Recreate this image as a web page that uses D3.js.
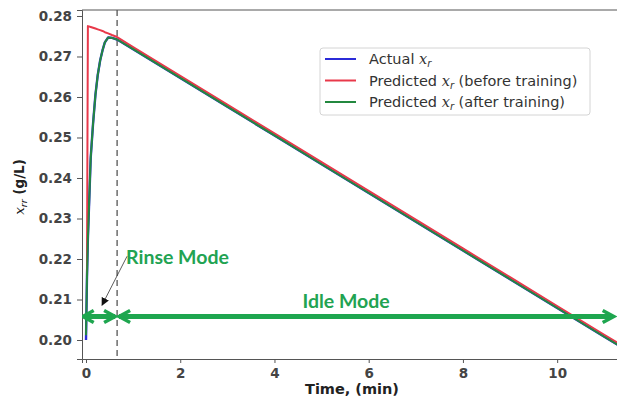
<!DOCTYPE html>
<html>
<head>
<meta charset="utf-8">
<title>Rinse / Idle xr</title>
<script src="https://d3js.org/d3.v7.min.js"></script>
<style>
body { margin: 0; background: #fff; }
.tick text { font-family: "DejaVu Sans", sans-serif; font-weight: bold; font-size: 13.5px; fill: #444; }
.tick line { stroke: #555; }
.domain { stroke: #555; }
.legend text { font-family: "DejaVu Sans", sans-serif; font-size: 14.5px; fill: #333; }
.mode { font-family: Lato, "Open Sans", sans-serif; font-weight: bold; font-size: 19.5px; fill: #22a352; }
</style>
</head>
<body>
<svg id="chart" width="617" height="398"></svg>
<script>
// time (min)
var timeMin = [0, 0.02, 0.04, 0.1, 0.15, 0.2, 0.25, 0.3, 0.35, 0.4, 0.47, 0.55, 0.66,
               1, 2, 3, 4, 5, 6, 7, 8, 9, 10, 11, 11.3];
// x_r (g/L)
var actualXr = [0.2000, 0.2150, 0.2250, 0.2450, 0.2535, 0.2605, 0.2655, 0.2690, 0.2715, 0.2735, 0.2747, 0.2746, 0.2742,
                0.2718, 0.2647, 0.2576, 0.2505, 0.2434, 0.2363, 0.2292, 0.2221, 0.2150, 0.2079, 0.2008, 0.1987];
var predBefore = [null, 0.2155, 0.2775, 0.2773, 0.2771, 0.2769, 0.2767, 0.2765, 0.2763, 0.2760, 0.2757, 0.2753, 0.2748,
                  0.2723, 0.2652, 0.2581, 0.2510, 0.2439, 0.2368, 0.2297, 0.2226, 0.2155, 0.2084, 0.2013, 0.1992];
var predAfter = [0.2012, 0.2150, 0.2250, 0.2450, 0.2535, 0.2605, 0.2655, 0.2690, 0.2715, 0.2735, 0.2747, 0.2746, 0.2742,
                 0.2718, 0.2647, 0.2576, 0.2505, 0.2434, 0.2363, 0.2292, 0.2221, 0.2150, 0.2079, 0.2008, 0.1987];

var xTicks = [0, 2, 4, 6, 8, 10];
var yTicks = [0.20, 0.21, 0.22, 0.23, 0.24, 0.25, 0.26, 0.27, 0.28];

var seriesNames = ["Actual", "Predicted", "Predicted"];
var seriesSuffix = ["", " (before training)", " (after training)"];
var seriesColors = ["#2b2bd8", "#e8394a", "#23883f"];

var modeSwitch = 0.66;            // dashed line, end of rinse
var modeArrowY = 0.2058;
var rinseSpan = [-0.07, 0.66];
var idleSpan = [0.66, 11.2];
var rinseLabel = [0.85, 0.2187];
var rinseTip = [0.34, 0.2086];
var idleLabel = [5.52, 0.2080];

var svg = d3.select("#chart");
var margin = {left: 82, top: 10, right: 0, bottom: 39};
var W = 617, H = 398;

var x = d3.scaleLinear().domain([-0.085, 11.27]).range([margin.left, W - margin.right]);
var y = d3.scaleLinear().domain([0.19531, 0.28148]).range([H - margin.bottom, margin.top]);

svg.append("defs").append("clipPath").attr("id", "plotclip")
  .append("rect")
  .attr("x", margin.left).attr("y", margin.top)
  .attr("width", W - margin.left - margin.right)
  .attr("height", H - margin.top - margin.bottom);

// axes
svg.append("g")
  .attr("transform", "translate(0," + (H - margin.bottom) + ")")
  .call(d3.axisBottom(x).tickValues(xTicks).tickFormat(d3.format("d")).tickSizeOuter(0).tickSize(4).tickPadding(5));
svg.append("g")
  .attr("transform", "translate(" + margin.left + ",0)")
  .call(d3.axisLeft(y).tickValues(yTicks).tickFormat(d3.format(".2f")).tickSizeOuter(0).tickSize(5).tickPadding(5));
svg.append("line")
  .attr("x1", margin.left).attr("x2", W).attr("y1", margin.top).attr("y2", margin.top)
  .attr("stroke", "#555");

// axis labels
svg.append("text")
  .attr("x", 352).attr("y", 394)
  .attr("text-anchor", "middle")
  .style("font-family", "DejaVu Sans, sans-serif").style("font-weight", "bold").style("font-size", "14.5px").style("fill", "#222")
  .text("Time, (min)");
var yl = svg.append("text")
  .attr("transform", "translate(24,187) rotate(-90)")
  .attr("text-anchor", "middle")
  .style("font-family", "DejaVu Sans, sans-serif").style("font-weight", "bold").style("font-size", "13.5px").style("fill", "#222");
yl.append("tspan").style("font-style", "italic").style("font-weight", "normal").style("font-family", "DejaVu Serif, serif").text("x");
yl.append("tspan").attr("dy", 3).style("font-size", "9.5px").style("font-style", "italic").style("font-weight", "normal").text("rr");
yl.append("tspan").attr("dy", -3).text(" (g/L)");

var plot = svg.append("g").attr("clip-path", "url(#plotclip)");

// dashed mode switch
plot.append("line")
  .attr("x1", x(modeSwitch)).attr("x2", x(modeSwitch))
  .attr("y1", margin.top).attr("y2", H - margin.bottom)
  .attr("stroke", "#555").attr("stroke-width", 1.3).attr("stroke-dasharray", "6,4");

var line = d3.line()
  .defined(function (d) { return d[1] != null; })
  .x(function (d) { return x(d[0]); })
  .y(function (d) { return y(d[1]); });

[actualXr, predBefore, predAfter].forEach(function (vals, i) {
  plot.append("path")
    .datum(timeMin.map(function (t, j) { return [t, vals[j]]; }))
    .attr("fill", "none")
    .attr("stroke", seriesColors[i])
    .attr("stroke-width", i == 0 ? 2.4 : 2)
    .attr("stroke-linejoin", "round")
    .attr("d", line);
});

// mode arrows
var green = "#1ea64f";
function chevron(px, py, dir) {
  // dir = +1 pointing right, -1 pointing left
  var l = 11, w = 6;
  return "M" + (px - dir * l) + "," + (py - w) + "L" + px + "," + py + "L" + (px - dir * l) + "," + (py + w);
}
[rinseSpan, idleSpan].forEach(function (span, i) {
  var x0 = x(span[0]), x1 = x(span[1]), yy = y(modeArrowY);
  plot.append("line")
    .attr("x1", x0 + 2).attr("x2", x1 - 2).attr("y1", yy).attr("y2", yy)
    .attr("stroke", green).attr("stroke-width", 5);
  plot.append("path").attr("d", chevron(x0 + (i == 0 ? 0 : 2), yy, -1))
    .attr("fill", "none").attr("stroke", green).attr("stroke-width", 3.5).attr("stroke-linejoin", "miter");
  plot.append("path").attr("d", chevron(x1 - (i == 0 ? 2 : 0), yy, 1))
    .attr("fill", "none").attr("stroke", green).attr("stroke-width", 3.5).attr("stroke-linejoin", "miter");
});

// labels
svg.append("text").attr("class", "mode")
  .attr("x", x(rinseLabel[0])).attr("y", y(rinseLabel[1]))
  .text("Rinse Mode");
svg.append("text").attr("class", "mode")
  .attr("x", x(idleLabel[0])).attr("y", y(idleLabel[1]))
  .attr("text-anchor", "middle")
  .text("Idle Mode");

// small black pointer
svg.append("marker").attr("id", "tri")
  .attr("viewBox", "0 0 10 10").attr("refX", 9).attr("refY", 5)
  .attr("markerWidth", 8).attr("markerHeight", 8).attr("orient", "auto")
  .attr("markerUnits", "userSpaceOnUse")
  .append("path").attr("d", "M0,0L10,5L0,10z").attr("fill", "#111");
svg.append("line")
  .attr("x1", x(rinseLabel[0]) + 1).attr("y1", y(rinseLabel[1]) - 8)
  .attr("x2", x(rinseTip[0])).attr("y2", y(rinseTip[1]))
  .attr("stroke", "#333").attr("stroke-width", 0.8)
  .attr("marker-end", "url(#tri)");

// legend
var lg = svg.append("g").attr("class", "legend").attr("transform", "translate(320,48)");
lg.append("rect").attr("width", 270).attr("height", 67).attr("rx", 3)
  .attr("fill", "#fff").attr("stroke", "#d4d4d4");
seriesNames.forEach(function (n, i) {
  var row = lg.append("g").attr("transform", "translate(0," + (11 + i * 21.5) + ")");
  row.append("line").attr("x1", 5).attr("x2", 36).attr("y1", 0).attr("y2", 0)
    .attr("stroke", seriesColors[i]).attr("stroke-width", 2);
  var t = row.append("text").attr("x", 49).attr("y", 5);
  t.append("tspan").text(n + " ");
  t.append("tspan").style("font-style", "italic").style("font-family", "DejaVu Serif, serif").text("x");
  t.append("tspan").attr("dy", 3).style("font-size", "10px").style("font-style", "italic").text("r");
  t.append("tspan").attr("dy", -3).text(seriesSuffix[i]);
});
</script>
</body>
</html>
